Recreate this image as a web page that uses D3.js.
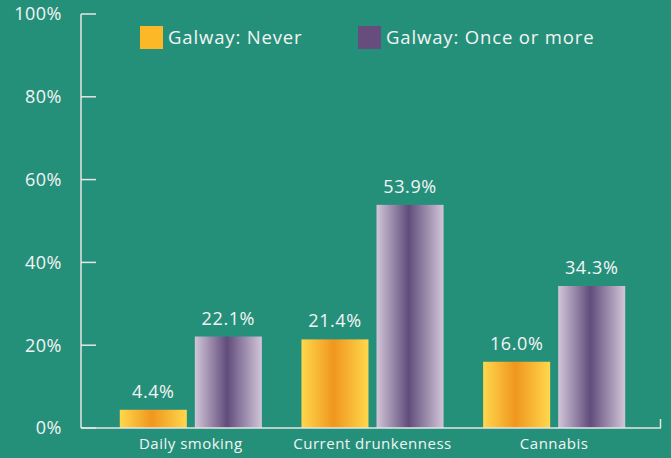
<!doctype html>
<html>
  <head>
    <script src="https://cdnjs.cloudflare.com/ajax/libs/d3/7.8.5/d3.min.js"></script>
    <style>
      body { margin: 0; background: #25907a; }
      svg { display: block; font-family: "Open Sans", sans-serif; }
      text { fill: #f4f4f4; }
    </style>
  </head>
  <body>
    <svg id="chart" width="671" height="458"></svg>
    <script>
      var categories = ["Daily smoking", "Current drunkenness", "Cannabis"];
      var seriesNames = ["Galway: Never", "Galway: Once or more"];
      var neverValues = [4.4, 21.4, 16.0];
      var onceValues = [22.1, 53.9, 34.3];
      var yTicks = [0, 20, 40, 60, 80, 100];

      var width = 671, height = 458;
      var svg = d3.select("#chart");
      var defs = svg.append("defs");

      // vertical-stripe gradients like the original bars
      function grad(id, edge, mid) {
        var g = defs.append("linearGradient").attr("id", id)
          .attr("x1", "0%").attr("x2", "100%").attr("y1", "0%").attr("y2", "0%");
        g.append("stop").attr("offset", "0%").attr("stop-color", edge);
        g.append("stop").attr("offset", "48%").attr("stop-color", mid);
        g.append("stop").attr("offset", "100%").attr("stop-color", edge);
      }
      grad("gOrange", "#ffd84c", "#f0961f");
      grad("gPurple", "#d2c6d9", "#614c7b");

      var y = d3.scaleLinear().domain([0, 100]).range([428, 14]);
      var x0 = d3.scaleBand().domain(categories).range([100, 645])
        .paddingInner(0.218).paddingOuter(0.109);
      var x1 = d3.scaleBand().domain(seriesNames).range([0, x0.bandwidth()])
        .paddingInner(0.107);

      var fills = ["url(#gOrange)", "url(#gPurple)"];
      var legendColors = ["#fdb827", "#674c7e"];

      var data = categories.map(function(c, i) {
        return { cat: c, vals: [neverValues[i], onceValues[i]] };
      });

      // y axis
      var yAxis = svg.append("g");
      yAxis.append("line").attr("x1", 81).attr("x2", 81)
        .attr("y1", y(100)).attr("y2", y(0))
        .attr("stroke", "#e6e6e6").attr("stroke-width", 1.5);
      yTicks.forEach(function(t) {
        yAxis.append("line").attr("x1", 81).attr("x2", 96)
          .attr("y1", y(t)).attr("y2", y(t))
          .attr("stroke", "#e6e6e6").attr("stroke-width", 1.5);
        yAxis.append("text").attr("x", 62).attr("y", y(t)).attr("dy", "0.35em")
          .attr("text-anchor", "end").style("font-size", "18px")
          .style("letter-spacing", "0.5px").text(t + "%");
      });

      // bars
      var groups = svg.selectAll("g.grp").data(data).enter().append("g")
        .attr("class", "grp")
        .attr("transform", d => "translate(" + x0(d.cat) + ",0)");

      groups.selectAll("rect").data(d => d.vals).enter().append("rect")
        .attr("x", (d, i) => x1(seriesNames[i]))
        .attr("width", x1.bandwidth())
        .attr("y", d => y(d))
        .attr("height", d => y(0) - y(d))
        .attr("fill", (d, i) => fills[i]);

      groups.selectAll("text.val").data(d => d.vals).enter().append("text")
        .attr("class", "val")
        .attr("x", (d, i) => x1(seriesNames[i]) + x1.bandwidth() / 2)
        .attr("y", d => y(d) - 12)
        .attr("text-anchor", "middle").style("font-size", "18px")
        .style("letter-spacing", "0.6px")
        .text(d => d.toFixed(1) + "%");

      // x axis baseline
      svg.append("line").attr("x1", 81).attr("x2", 661)
        .attr("y1", y(0)).attr("y2", y(0))
        .attr("stroke", "#e6e6e6").attr("stroke-width", 1.5);
      svg.append("line").attr("x1", 660.5).attr("x2", 660.5)
        .attr("y1", y(0) - 9).attr("y2", y(0))
        .attr("stroke", "#e6e6e6").attr("stroke-width", 1.5);

      svg.selectAll("text.cat").data(categories).enter().append("text")
        .attr("class", "cat")
        .attr("x", d => x0(d) + x0.bandwidth() / 2)
        .attr("y", 449)
        .attr("text-anchor", "middle").style("font-size", "15px")
        .style("letter-spacing", "0.5px")
        .text(d => d);

      // legend
      var legendX = [140, 358];
      seriesNames.forEach(function(s, i) {
        svg.append("rect").attr("x", legendX[i]).attr("y", 26)
          .attr("width", 23).attr("height", 23).attr("fill", legendColors[i]);
        svg.append("text").attr("x", legendX[i] + 28).attr("y", 38)
          .attr("dy", "0.35em").style("font-size", "18.5px")
          .style("letter-spacing", "0.85px").text(s);
      });
    </script>
  </body>
</html>
